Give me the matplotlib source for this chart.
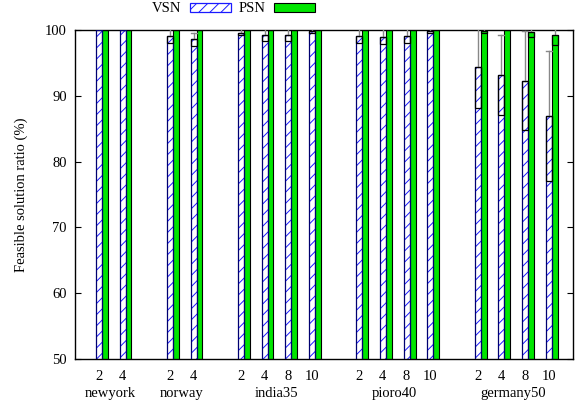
import numpy as np
import matplotlib.pyplot as plt
from matplotlib.patches import Patch, Rectangle

plt.rcParams['font.family'] = ['Liberation Serif', 'DejaVu Serif']
plt.rcParams['font.size'] = 10.5
plt.rcParams['hatch.linewidth'] = 0.7

# topologies and number of slices per topology
groups = ['newyork', 'norway', 'india35', 'pioro40', 'germany50']
sizes = [[2, 4], [2, 4], [2, 4, 8, 10], [2, 4, 8, 10], [2, 4, 8, 10]]

# feasible solution ratio (%) and std dev, one entry per (topology, size)
vsn = [100, 100, 99.1, 98.6, 99.6, 99.2, 99.2, 99.8,
       99.1, 99.0, 99.1, 99.8, 94.4, 93.2, 92.3, 87.0]
vsn_err = [0, 0, 1.1, 1.0, 0.4, 0.85, 0.8, 0.2,
           1.0, 1.1, 1.1, 0.2, 6.3, 6.1, 7.5, 9.9]
psn = [100, 100, 100, 100, 100, 100, 100, 100,
       100, 100, 100, 100, 99.8, 100, 99.7, 99.2]
psn_err = [0, 0, 0, 0, 0, 0, 0, 0,
           0, 0, 0, 0, 0.2, 0, 0.7, 1.4]

# slot positions: one empty slot between topologies
pos = []
k = 0
for s in sizes:
    for _ in s:
        pos.append(k)
        k += 1
    k += 1
pos = np.array(pos, dtype=float)

fig = plt.figure(figsize=(5.75, 4.07), dpi=100)
ax = fig.add_axes([0.131, 0.118, 0.8655, 0.808])

w = 0.25
ymin, ymax = 50, 100
green = '#00e600'

# VSN: white bars with blue hatching and navy outline
ax.bar(pos - w / 2, vsn, w, bottom=0, color='white', edgecolor='#1a1aff',
       hatch='///', linewidth=0, zorder=2)
ax.bar(pos - w / 2, vsn, w, fill=False, edgecolor='#000070', linewidth=0.9, zorder=3)
# PSN: solid green bars
ax.bar(pos + w / 2, psn, w, color=green, edgecolor='black', linewidth=0.8, zorder=2)


def draw_err(xc, vals, errs):
    for x, v, e in zip(xc, vals, errs):
        if e <= 0:
            continue
        lo, hi = v - e, v + e
        ax.plot([x, x], [v, min(hi, ymax)], color='#888888', lw=1.0, zorder=4)
        if hi < ymax:
            ax.plot([x - w / 2, x + w / 2], [hi, hi], color='#888888', lw=1.0,
                    zorder=4)
        ax.add_patch(Rectangle((x - w / 2, lo), w, e, fill=False,
                               edgecolor='black', lw=0.9, zorder=5))


draw_err(pos - w / 2, vsn, vsn_err)
draw_err(pos + w / 2, psn, psn_err)

ax.set_xlim(-1.12, 19.9)
ax.set_ylim(ymin, ymax)
ax.set_yticks(np.arange(50, 101, 10))
ax.tick_params(axis='y', direction='in', length=4, width=0.8, right=True,
               labelsize=10.5, pad=6)
ax.set_xticks([])
for sp in ax.spines.values():
    sp.set_linewidth(1.0)

ax.set_ylabel('Feasible solution ratio (%)', fontsize=10.5, labelpad=12)

# size labels and topology names under the axis
trans = ax.get_xaxis_transform()
i = 0
for g, s in zip(groups, sizes):
    first = i
    for n in s:
        ax.text(pos[i] - 0.13, -0.052, str(n), transform=trans,
                ha='center', va='center', fontsize=10.5)
        i += 1
    mid = (pos[first] + pos[i - 1]) / 2 - 0.13
    ax.text(mid, -0.104, g, transform=trans, ha='center', va='center',
            fontsize=10.5)

handles = [Patch(facecolor='white', edgecolor='#1a1aff', hatch='///', linewidth=0.9),
           Patch(facecolor=green, edgecolor='black', linewidth=0.8)]
fig.legend(handles, ['VSN', 'PSN'], loc='center', bbox_to_anchor=(0.406, 0.978),
           ncol=2, frameon=False, markerfirst=False, handlelength=2.8,
           handleheight=0.6, handletextpad=0.6, columnspacing=0.55, fontsize=10.5)

fig.savefig('out.png', dpi=100)
